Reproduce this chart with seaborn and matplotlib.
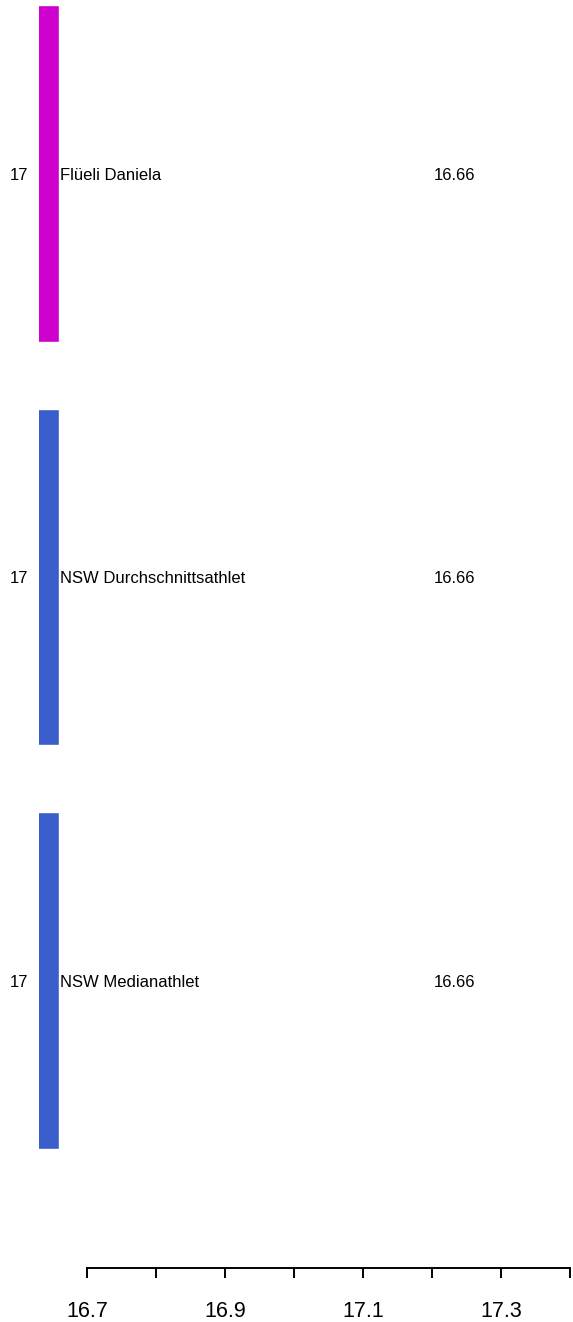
"""Horizontal bar chart: athlete vs NSW average/median."""

import matplotlib

matplotlib.use("Agg")
import matplotlib.pyplot as plt
import pandas as pd
import seaborn as sns

# Data
names = ["Flüeli Daniela", "NSW Durchschnittsathlet", "NSW Medianathlet"]
values = [16.66, 16.66, 16.66]
rounded_labels = ["17", "17", "17"]
bar_colors = ["#CD00CD", "#3A5FCD", "#3A5FCD"]
x_ticks = [16.7, 16.8, 16.9, 17.0, 17.1, 17.2, 17.3, 17.4]
x_tick_labels = ["16.7", "", "16.9", "", "17.1", "", "17.3", ""]

# where the value text sits on the x scale
VALUE_LABEL_X = 17.233

df = pd.DataFrame({"name": names, "value": values})

sns.set_style("white")
plt.rcParams["font.family"] = ["Liberation Sans", "DejaVu Sans"]
plt.rcParams["text.color"] = "black"
plt.rcParams["xtick.color"] = "black"
plt.rcParams["ytick.color"] = "black"

W, H, DPI = 573, 1322, 100
fig = plt.figure(figsize=(W / DPI, H / DPI), dpi=DPI)

# plot region in pixels: left edge 39, bottom axis line at 1268
ax = fig.add_axes([39 / W, (H - 1268) / H, (W - 39) / W, 1268 / H])

sns.barplot(
    data=df,
    x="value",
    y="name",
    hue="name",
    palette=bar_colors,
    width=0.835,
    legend=False,
    saturation=1,
    ax=ax,
)

ax.set_xlim(16.7 - 48 / 690, 17.4 + 3 / 690)
ax.set_ylim(2.7125, -0.430)

# names next to the bar end, values further right
for i, (name, val) in enumerate(zip(names, values)):
    ax.text(val + 0.0015, i, name, ha="left", va="center_baseline",
            fontsize=12, color="black")
    ax.text(VALUE_LABEL_X, i, f"{val:.2f}", ha="center", va="center_baseline",
            fontsize=12, color="black")

# y axis: rounded values only
ax.set_yticks(range(len(names)))
ax.set_yticklabels(rounded_labels)
ax.tick_params(axis="y", length=0, pad=8, labelsize=12, labelcolor="black")
for lbl in ax.get_yticklabels():
    lbl.set_verticalalignment("center_baseline")

# x axis in R style
ax.set_xticks(x_ticks)
ax.set_xticklabels(x_tick_labels)
ax.tick_params(axis="x", length=7, width=1.4, pad=17, labelsize=15.5,
               bottom=True, color="black", labelcolor="black")
ax.set_xlabel("")
ax.set_ylabel("")

for side in ["top", "right", "left"]:
    ax.spines[side].set_visible(False)
ax.spines["bottom"].set_bounds(16.7, 17.4)
ax.spines["bottom"].set_linewidth(1.4)
ax.spines["bottom"].set_color("black")

fig.savefig("out.png", dpi=DPI)
plt.close(fig)
